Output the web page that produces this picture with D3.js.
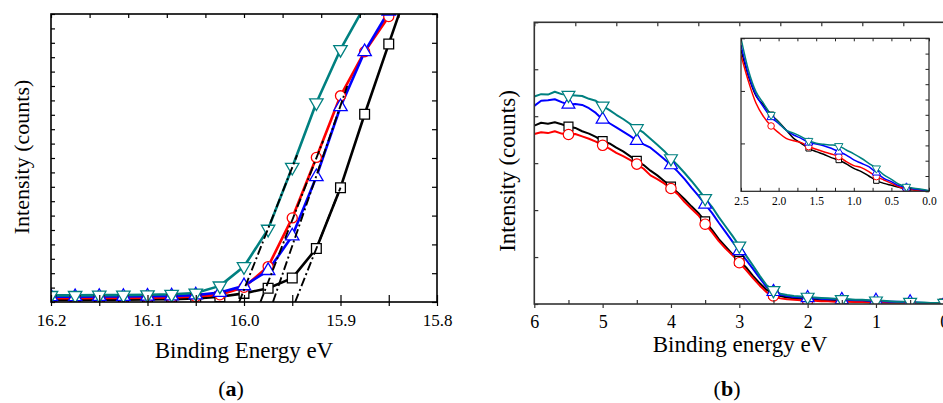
<!DOCTYPE html>
<html><head><meta charset="utf-8">
<script src="https://cdn.jsdelivr.net/npm/d3@7"></script>
<style>
html,body{margin:0;padding:0;background:#fff;}
svg{display:block;font-family:"Liberation Serif","Times New Roman",serif;}
</style></head><body>
<svg id="c" width="943" height="403"></svg>
<script>
// ---------- Panel (a) data ----------
const energyA = [16.2,16.175,16.15,16.125,16.1,16.075,16.05,16.025,16.0,15.975,15.95,15.925,15.9,15.875,15.85,15.825];
const blackA = [0.07,0.07,0.08,0.08,0.09,0.10,0.12,0.18,0.30,0.48,0.83,1.86,3.97,6.52,8.96,11.4];
const redA   = [0.13,0.13,0.14,0.14,0.15,0.16,0.19,0.25,0.51,1.23,2.92,5.02,7.16,8.69,9.91,11.0];
const blueA  = [0.18,0.18,0.19,0.19,0.20,0.21,0.24,0.33,0.56,1.09,2.29,4.35,6.78,8.69,10.1,11.4];
const tealA  = [0.23,0.23,0.24,0.24,0.25,0.27,0.31,0.56,1.23,2.53,4.68,6.92,8.77,10.27];
const tanStartE = [16.005,15.983,15.970,15.947];
const tanEndE   = [15.945,15.918,15.893,15.900];
const tanEndI   = [5.1,5.6,7.5,3.97];
const ticksA = [16.2,16.1,16.0,15.9,15.8];
const tickLabelsA = ["16.2","16.1","16.0","15.9","15.8"];

// ---------- Panel (b) data ----------
const energyB = [6.0,5.9,5.8,5.7,5.6,5.5,5.4,5.3,5.2,5.1,5.0,4.9,4.8,4.7,4.6,4.5,4.4,4.3,4.2,4.1,4.0,3.9,3.8,3.7,3.6,3.5,3.4,3.3,3.2,3.1,3.0,2.9,2.8,2.7,2.6,2.5,2.4,2.3,2.2,2.1,2.0,1.9,1.8,1.7,1.6,1.5,1.4,1.3,1.2,1.1,1.0,0.9,0.8,0.7,0.6,0.5,0.4,0.3,0.2,0.1,0.0];
const tealB = [4.42,4.47,4.46,4.52,4.47,4.45,4.44,4.43,4.37,4.33,4.22,4.13,4.03,3.94,3.84,3.74,3.65,3.52,3.39,3.26,3.10,2.95,2.79,2.62,2.44,2.25,2.07,1.85,1.65,1.45,1.24,1.03,0.82,0.60,0.40,0.29,0.22,0.19,0.17,0.16,0.15,0.14,0.13,0.12,0.11,0.10,0.10,0.09,0.09,0.08,0.07,0.07,0.06,0.05,0.05,0.04,0.03,0.03,0.02,0.02,0.02];
const blueB = [4.22,4.33,4.34,4.36,4.30,4.25,4.26,4.24,4.17,4.07,3.93,3.85,3.76,3.67,3.58,3.48,3.40,3.33,3.21,3.09,2.96,2.82,2.66,2.48,2.31,2.12,1.94,1.73,1.53,1.33,1.13,0.94,0.75,0.55,0.36,0.26,0.20,0.17,0.15,0.14,0.13,0.12,0.11,0.10,0.10,0.09,0.09,0.08,0.08,0.07,0.07,0.06,0.05,0.05,0.04,0.04,0.03,0.02,0.02,0.01,0.01];
const blackB = [3.80,3.86,3.84,3.87,3.83,3.78,3.75,3.68,3.63,3.56,3.47,3.42,3.33,3.25,3.15,3.05,2.96,2.84,2.74,2.62,2.50,2.37,2.23,2.08,1.94,1.76,1.58,1.38,1.22,1.06,0.92,0.78,0.60,0.44,0.30,0.22,0.17,0.14,0.12,0.11,0.10,0.09,0.08,0.07,0.07,0.06,0.06,0.05,0.05,0.04,0.04,0.03,0.03,0.02,0.02,0.02,0.01,0.01,0.01,0.01,0.01];
const redB = [3.62,3.66,3.64,3.68,3.63,3.61,3.62,3.57,3.52,3.46,3.38,3.31,3.22,3.15,3.07,2.98,2.88,2.74,2.66,2.57,2.46,2.34,2.17,2.03,1.89,1.70,1.53,1.34,1.18,1.04,0.88,0.72,0.55,0.39,0.25,0.17,0.12,0.10,0.09,0.08,0.07,0.07,0.06,0.06,0.05,0.05,0.05,0.04,0.04,0.03,0.03,0.03,0.02,0.02,0.02,0.01,0.01,0.01,0.01,0.00,0.00];
const markerEB = [5.5,5.0,4.5,4.0,3.5,3.0,2.5,2.0,1.5,1.0,0.5,0.0];
const ticksB = [6,5,4,3,2,1,0];

// ---------- Inset data ----------
const energyI = [2.5,2.4,2.3,2.2,2.1,2.0,1.9,1.8,1.7,1.6,1.5,1.4,1.3,1.2,1.1,1.0,0.9,0.8,0.7,0.6,0.5,0.4,0.3,0.2,0.1,0.0];
const tealI  = [1.0,0.79,0.65,0.575,0.50,0.45,0.40,0.38,0.357,0.33,0.314,0.307,0.303,0.296,0.27,0.245,0.216,0.183,0.15,0.107,0.078,0.046,0.03,0.02,0.013,0.004];
const blueI  = [0.956,0.76,0.63,0.55,0.484,0.444,0.40,0.368,0.346,0.318,0.309,0.298,0.281,0.259,0.237,0.205,0.183,0.161,0.122,0.085,0.063,0.037,0.024,0.015,0.009,0.004];
const blackI = [0.924,0.75,0.623,0.564,0.50,0.455,0.40,0.346,0.314,0.281,0.259,0.242,0.22,0.205,0.179,0.15,0.129,0.10,0.07,0.052,0.039,0.026,0.015,0.009,0.005,0.003];
const redI   = [0.89,0.717,0.575,0.488,0.427,0.383,0.346,0.33,0.318,0.292,0.275,0.259,0.244,0.227,0.194,0.168,0.155,0.129,0.096,0.074,0.052,0.03,0.015,0.009,0.005,0.003];
const markerEI = [2.1,1.6,1.2,0.7,0.3];
const ticksI = [2.5,2.0,1.5,1.0,0.5,0.0];
const insetLeftTicks = [1.0,0.656,0.313];

// ---------- styles ----------
const C = {black:"#000000", red:"#ff0000", blue:"#0000ff", teal:"#008080"};
const svg = d3.select("#c");

function sym(type, size, down){
  const p = d3.symbol().type(type).size(size);
  return down ? (d=>p()) : (d=>p());
}

// ================= Panel (a) =================
const xA = d3.scaleLinear().domain([16.2,15.8]).range([51,437]);
const yA = d3.scaleLinear().domain([0,10]).range([302,14]);
svg.append("clipPath").attr("id","clipA").append("rect")
  .attr("x",xA(16.2)).attr("y",yA(10)).attr("width",xA(15.8)-xA(16.2)).attr("height",yA(0)-yA(10));
const gA = svg.append("g");
const plotA = gA.append("g").attr("clip-path","url(#clipA)");

const seriesA = [
  {v:blackA, c:C.black, t:d3.symbolSquare, s:95, down:false},
  {v:redA, c:C.red, t:d3.symbolCircle, s:80, down:false},
  {v:blueA, c:C.blue, t:d3.symbolTriangle, s:78, down:false},
  {v:tealA, c:C.teal, t:d3.symbolTriangle, s:78, down:true}
];
seriesA.forEach(S=>{
  const pts = S.v.map((v,i)=>[energyA[i], v]);
  plotA.append("path").datum(pts)
    .attr("d", d3.line().x(d=>xA(d[0])).y(d=>yA(d[1])))
    .attr("fill","none").attr("stroke",S.c).attr("stroke-width",2.6).attr("stroke-linejoin","round");
});
seriesA.forEach(S=>{
  const pts = S.v.map((v,i)=>[energyA[i], v]);
  plotA.selectAll(null).data(pts).enter().append("path")
    .attr("d", d3.symbol().type(S.t).size(S.s))
    .attr("transform", d=>`translate(${xA(d[0])},${yA(d[1])})${S.down?" rotate(180)":""}`)
    .attr("fill","#fff").attr("stroke",S.c).attr("stroke-width",1.3);
});
// tangent (extrapolation) lines
plotA.selectAll(null).data(tanStartE.map((e,i)=>({e0:e, e1:tanEndE[i], v1:tanEndI[i]}))).enter()
  .append("line")
  .attr("x1",d=>xA(d.e0)).attr("y1",yA(0)).attr("x2",d=>xA(d.e1)).attr("y2",d=>yA(d.v1))
  .attr("stroke","#000").attr("stroke-width",1.9).attr("stroke-dasharray","9,3,2,3");

// axes (a)
const axA = gA.append("g");
// bottom labels
axA.append("g").attr("transform",`translate(0,${yA(0)})`)
  .call(d3.axisBottom(xA).tickValues(ticksA).tickSize(0).tickPadding(12).tickFormat((d,i)=>tickLabelsA[i]))
  .call(g=>g.select(".domain").remove())
  .call(g=>g.selectAll("text").attr("font-size",17).attr("font-family","Liberation Serif").attr("fill","#000"));
// bottom ticks (inward + outward)
const minorA = [16.2,16.15,16.1,16.05,16.0,15.95,15.9,15.85,15.8];
axA.append("g").attr("transform",`translate(0,${yA(0)})`)
  .call(d3.axisBottom(xA).tickValues(minorA).tickSize(-7).tickFormat(""))
  .call(g=>g.select(".domain").remove());
axA.append("g").attr("transform",`translate(0,${yA(0)})`)
  .call(d3.axisBottom(xA).tickValues(minorA).tickSize(4).tickFormat(""))
  .call(g=>g.select(".domain").remove());
// top ticks
const xTopA = d3.scaleLinear().domain([0,10]).range([51,437]);
axA.append("g").attr("transform",`translate(0,${yA(10)})`)
  .call(d3.axisTop(xTopA).ticks(10).tickSize(-4).tickFormat(""))
  .call(g=>g.select(".domain").remove());
// left ticks
axA.append("g").attr("transform",`translate(${xA(16.2)},0)`)
  .call(d3.axisLeft(yA).tickValues(d3.range(0,10.01,0.5)).tickSize(-4).tickFormat(""))
  .call(g=>g.select(".domain").remove());
// right ticks
axA.append("g").attr("transform",`translate(${xA(15.8)},0)`)
  .call(d3.axisRight(yA).tickValues(d3.range(0,10.01,1)).tickSize(-5).tickFormat(""))
  .call(g=>g.select(".domain").remove());
axA.selectAll(".tick line").attr("stroke","#000").attr("stroke-width",1.2);
gA.append("rect").attr("x",xA(16.2)).attr("y",yA(10)).attr("width",xA(15.8)-xA(16.2)).attr("height",yA(0)-yA(10))
  .attr("fill","none").attr("stroke","#000").attr("stroke-width",1.6);

gA.append("text").attr("x",244).attr("y",358).attr("text-anchor","middle").attr("font-size",23).text("Binding Energy eV");
gA.append("text").attr("transform","translate(29,157) rotate(-90)").attr("text-anchor","middle").attr("font-size",22).text("Intensity (counts)");
const la = gA.append("text").attr("x",231).attr("y",396).attr("text-anchor","middle").attr("font-size",22);
la.append("tspan").text("(");
la.append("tspan").attr("font-weight","bold").text("a");
la.append("tspan").text(")");

// ================= Panel (b) =================
const xB = d3.scaleLinear().domain([6,0]).range([534.3,944.3]);
const yB = d3.scaleLinear().domain([0,6]).range([304,22.3]);
svg.append("clipPath").attr("id","clipB").append("rect")
  .attr("x",xB(6)).attr("y",yB(6)).attr("width",xB(0)-xB(6)).attr("height",yB(0)-yB(6));
const gB = svg.append("g");
const plotB = gB.append("g").attr("clip-path","url(#clipB)");
const seriesB = [
  {v:blackB, c:C.black, t:d3.symbolSquare, s:80, down:false},
  {v:redB, c:C.red, t:d3.symbolCircle, s:85, down:false},
  {v:blueB, c:C.blue, t:d3.symbolTriangle, s:72, down:false},
  {v:tealB, c:C.teal, t:d3.symbolTriangle, s:72, down:true}
];
seriesB.forEach(S=>{
  const pts = S.v.map((v,i)=>[energyB[i], v]);
  plotB.append("path").datum(pts)
    .attr("d", d3.line().x(d=>xB(d[0])).y(d=>yB(d[1])))
    .attr("fill","none").attr("stroke",S.c).attr("stroke-width",2).attr("stroke-linejoin","round");
});
seriesB.forEach(S=>{
  const pts = S.v.map((v,i)=>[energyB[i], v]).filter(d=>markerEB.some(m=>Math.abs(m-d[0])<1e-6));
  plotB.selectAll(null).data(pts).enter().append("path")
    .attr("d", d3.symbol().type(S.t).size(S.s))
    .attr("transform", d=>`translate(${xB(d[0])},${yB(d[1])})${S.down?" rotate(180)":""}`)
    .attr("fill","#fff").attr("stroke",S.c).attr("stroke-width",1.2);
});
const axB = gB.append("g");
axB.append("g").attr("transform",`translate(0,${yB(0)})`)
  .call(d3.axisBottom(xB).tickValues(ticksB).tickSize(0).tickPadding(11).tickFormat(d3.format("d")))
  .call(g=>g.select(".domain").remove())
  .call(g=>g.selectAll("text").attr("font-size",18).attr("font-family","Liberation Serif").attr("fill","#000"));
axB.append("g").attr("transform",`translate(0,${yB(0)})`)
  .call(d3.axisBottom(xB).tickValues(ticksB).tickSize(4).tickFormat(""))
  .call(g=>g.select(".domain").remove());
axB.append("g").attr("transform",`translate(0,${yB(0)})`)
  .call(d3.axisBottom(xB).tickValues([5.5,4.5,3.5,2.5,1.5,0.5]).tickSize(-4).tickFormat(""))
  .call(g=>g.select(".domain").remove());
const xTopB = d3.scaleLinear().domain([0,10]).range([534.3,944.3]);
axB.append("g").attr("transform",`translate(0,${yB(6)})`)
  .call(d3.axisTop(xTopB).ticks(10).tickSize(-4).tickFormat(""))
  .call(g=>g.select(".domain").remove());
axB.append("g").attr("transform",`translate(${xB(6)},0)`)
  .call(d3.axisLeft(yB).tickValues(d3.range(0,6.01,1)).tickSize(-4).tickFormat(""))
  .call(g=>g.select(".domain").remove());
axB.selectAll(".tick line").attr("stroke","#333").attr("stroke-width",1.2);
gB.append("rect").attr("x",xB(6)).attr("y",yB(6)).attr("width",xB(0)-xB(6)).attr("height",yB(0)-yB(6))
  .attr("fill","none").attr("stroke","#333").attr("stroke-width",1.6);

// ---- inset ----
const xI = d3.scaleLinear().domain([2.5,0]).range([741,929]);
const yI = d3.scaleLinear().domain([0,1]).range([191.3,38.3]);
const gI = gB.append("g");
gI.append("rect").attr("x",xI(2.5)).attr("y",yI(1)).attr("width",xI(0)-xI(2.5)).attr("height",yI(0)-yI(1)).attr("fill","#fff");
svg.append("clipPath").attr("id","clipI").append("rect")
  .attr("x",xI(2.5)).attr("y",yI(1)).attr("width",xI(0)-xI(2.5)).attr("height",yI(0)-yI(1));
const plotI = gI.append("g").attr("clip-path","url(#clipI)");
const seriesI = [
  {v:blackI, c:C.black, t:d3.symbolSquare, s:30, down:false},
  {v:redI, c:C.red, t:d3.symbolCircle, s:34, down:false},
  {v:blueI, c:C.blue, t:d3.symbolTriangle, s:30, down:false},
  {v:tealI, c:C.teal, t:d3.symbolTriangle, s:30, down:true}
];
seriesI.forEach(S=>{
  const pts = S.v.map((v,i)=>[energyI[i], v]);
  plotI.append("path").datum(pts)
    .attr("d", d3.line().curve(d3.curveMonotoneX).x(d=>xI(d[0])).y(d=>yI(d[1])))
    .attr("fill","none").attr("stroke",S.c).attr("stroke-width",1.5);
});
seriesI.forEach(S=>{
  const pts = S.v.map((v,i)=>[energyI[i], v]).filter(d=>markerEI.some(m=>Math.abs(m-d[0])<1e-6));
  plotI.selectAll(null).data(pts).enter().append("path")
    .attr("d", d3.symbol().type(S.t).size(S.s))
    .attr("transform", d=>`translate(${xI(d[0])},${yI(d[1])})${S.down?" rotate(180)":""}`)
    .attr("fill","#fff").attr("stroke",S.c).attr("stroke-width",1);
});
const axI = gI.append("g");
axI.append("g").attr("transform",`translate(0,${yI(0)})`)
  .call(d3.axisBottom(xI).tickValues(ticksI).tickSize(0).tickPadding(5.5).tickFormat(d3.format(".1f")))
  .call(g=>g.select(".domain").remove())
  .call(g=>g.selectAll("text").attr("font-size",11.5).attr("font-family","Liberation Serif").attr("fill","#000"));
axI.append("g").attr("transform",`translate(0,${yI(0)})`)
  .call(d3.axisBottom(xI).tickValues(d3.range(0,2.51,0.25)).tickSize(-3.5).tickFormat(""))
  .call(g=>g.select(".domain").remove());
axI.append("g").attr("transform",`translate(0,${yI(1)})`)
  .call(d3.axisTop(xI).tickValues(d3.range(0,2.51,0.25)).tickSize(-3).tickFormat(""))
  .call(g=>g.select(".domain").remove());
axI.append("g").attr("transform",`translate(${xI(2.5)},0)`)
  .call(d3.axisLeft(yI).tickValues(insetLeftTicks).tickSize(-4).tickFormat(""))
  .call(g=>g.select(".domain").remove());
axI.append("g").attr("transform",`translate(${xI(0)},0)`)
  .call(d3.axisRight(yI).tickValues(d3.range(0,1.001,0.1)).tickSize(-3.5).tickFormat(""))
  .call(g=>g.select(".domain").remove());
axI.selectAll(".tick line").attr("stroke","#222").attr("stroke-width",1);
gI.append("rect").attr("x",xI(2.5)).attr("y",yI(1)).attr("width",xI(0)-xI(2.5)).attr("height",yI(0)-yI(1))
  .attr("fill","none").attr("stroke","#222").attr("stroke-width",1.2);

gB.append("text").attr("x",740).attr("y",352).attr("text-anchor","middle").attr("font-size",23).text("Binding energy eV");
gB.append("text").attr("transform","translate(515,171) rotate(-90)").attr("text-anchor","middle").attr("font-size",23).text("Intensity (counts)");
const lb = gB.append("text").attr("x",727).attr("y",396).attr("text-anchor","middle").attr("font-size",22);
lb.append("tspan").text("(");
lb.append("tspan").attr("font-weight","bold").text("b");
lb.append("tspan").text(")");
</script>
</body></html>
